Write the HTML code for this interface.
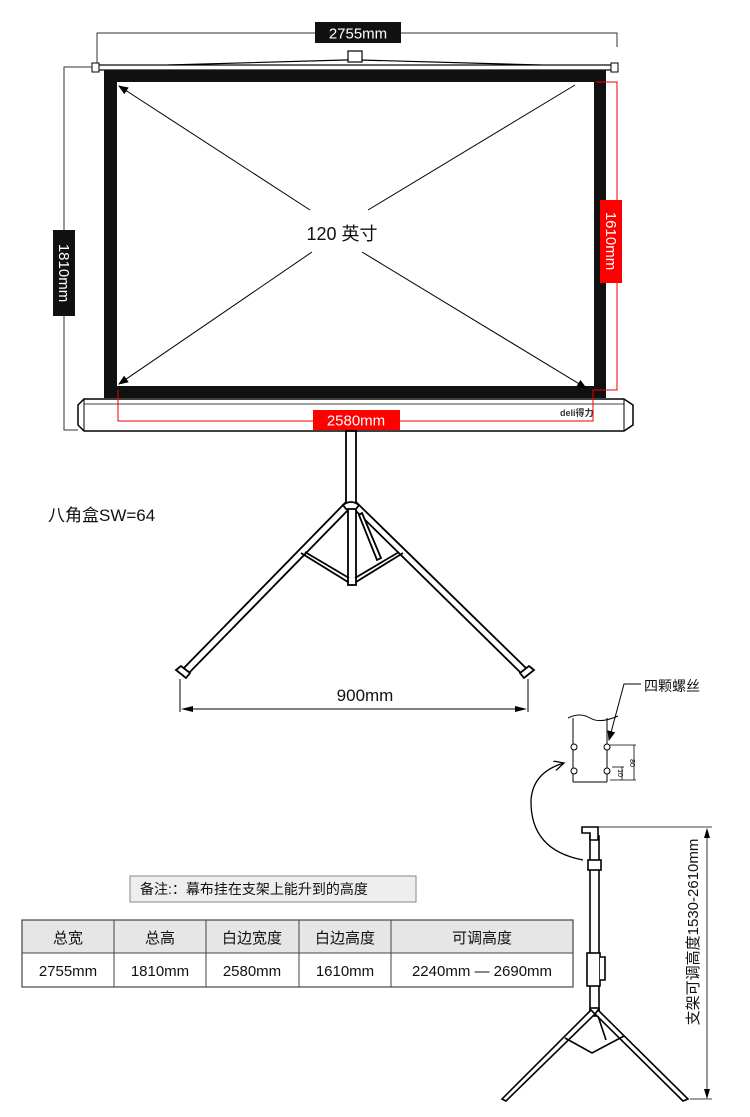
<!DOCTYPE html>
<html><head><meta charset="utf-8"><style>
html,body{margin:0;padding:0;background:#fff;}
svg{display:block;font-family:"Liberation Sans","Noto Sans CJK SC",sans-serif;}
</style></head><body>
<svg width="750" height="1117" viewBox="0 0 750 1117" xmlns="http://www.w3.org/2000/svg">
<defs>
<marker id="ar" markerWidth="10" markerHeight="8" refX="9" refY="4" orient="auto" markerUnits="userSpaceOnUse"><path d="M0,0 L10,4 L0,8 Z" fill="#000"/></marker>
<marker id="ar2" markerWidth="12" markerHeight="10" refX="10" refY="5" orient="auto" markerUnits="userSpaceOnUse"><path d="M0,0 L10,5 L0,10" fill="none" stroke="#000" stroke-width="1.3"/></marker>
</defs>
<polyline points="97,65 97,33 617,33 617,47" fill="none" stroke="#333" stroke-width="1"/>
<rect x="315" y="22" width="86" height="21" fill="#111"/>
<text x="358" y="38.5" font-size="15" fill="#fff" text-anchor="middle">2755mm</text>
<polyline points="168,65 345,60 360,60 540,65" fill="none" stroke="#000" stroke-width="1.2"/>
<rect x="348" y="51" width="14" height="11" fill="#fff" stroke="#000" stroke-width="1.2"/>
<rect x="95" y="65" width="520" height="5" fill="#fff" stroke="#000" stroke-width="1.2"/>
<rect x="92" y="63" width="7" height="9" fill="#fff" stroke="#000"/>
<rect x="611" y="63" width="7" height="9" fill="#fff" stroke="#000"/>
<polyline points="92,67 64,67 64,430 78,430" fill="none" stroke="#333" stroke-width="1"/>
<rect x="53" y="230" width="22" height="86" fill="#111"/>
<text transform="translate(59,273) rotate(90)" font-size="15" fill="#fff" text-anchor="middle">1810mm</text>
<rect x="104" y="70" width="502" height="328" fill="#111"/>
<rect x="117" y="82" width="477" height="304" fill="#fff"/>
<line x1="310" y1="210" x2="119" y2="86" stroke="#000" stroke-width="1" marker-end="url(#ar)"/>
<line x1="368" y1="210" x2="575" y2="85" stroke="#000" stroke-width="1"/>
<line x1="312" y1="252" x2="119" y2="384" stroke="#000" stroke-width="1" marker-end="url(#ar)"/>
<line x1="362" y1="252" x2="586" y2="388" stroke="#000" stroke-width="1" marker-end="url(#ar)"/>
<text x="342" y="240" font-size="18" fill="#111" text-anchor="middle">120 英寸</text>
<path d="M84,399 L624,399 L633,405 L633,425 L624,431 L84,431 L78,425 L78,405 Z" fill="#fff" stroke="#000" stroke-width="1.5"/>
<line x1="84" y1="399" x2="84" y2="431" stroke="#000"/>
<line x1="624" y1="399" x2="624" y2="431" stroke="#000"/>
<line x1="84" y1="404" x2="624" y2="404" stroke="#000" stroke-width="0.8"/>
<text x="560" y="416" font-size="9" font-weight="bold" fill="#333">deli得力</text>
<polyline points="596,82 617,82 617,390 593,390 593,421 118,421 118,390" fill="none" stroke="#e00" stroke-width="1"/>
<rect x="600" y="200" width="22" height="83" fill="#f00"/>
<text transform="translate(606,241) rotate(90)" font-size="15" fill="#fff" text-anchor="middle">1610mm</text>
<rect x="313" y="410" width="87" height="20" fill="#f00"/>
<text x="356" y="425.5" font-size="15" fill="#fff" text-anchor="middle">2580mm</text>
<g stroke="#000" stroke-width="1.8" fill="#fff">
<rect x="346" y="431" width="10" height="72"/>
<path d="M345,503 L180,672 L186,676 L349,509 Z"/>
<path d="M357,503 L530,672 L524,676 L354,509 Z"/>
<rect x="348" y="505" width="8" height="80"/>
<path d="M343,505 Q351,499 359,505 L356,509 L346,509 Z"/>
<path d="M301,553 L348,582 M305,552 L349,578" fill="none"/>
<path d="M403,553 L356,582 M399,552 L355,578" fill="none"/>
<path d="M359,515 L377,560 L381,558 L362,513 Z"/>
<path d="M176,670 L186,678 L190,673 L181,666 Z" fill="#fff"/>
<path d="M534,670 L524,678 L520,673 L529,666 Z" fill="#fff"/>
</g>
<line x1="180" y1="679" x2="180" y2="712" stroke="#000"/>
<line x1="528" y1="679" x2="528" y2="712" stroke="#000"/>
<line x1="190" y1="709" x2="518" y2="709" stroke="#000"/>
<path d="M181,709 L193,706 L193,712 Z M527,709 L515,706 L515,712 Z" fill="#000"/>
<text x="365" y="701" font-size="17" fill="#111" text-anchor="middle">900mm</text>
<text x="48" y="521" font-size="17" fill="#111">八角盒SW=64</text>
<path d="M568,718 Q580,712 590,718 T618,716" fill="none" stroke="#000"/>
<line x1="573" y1="718" x2="573" y2="782" stroke="#000"/>
<line x1="607" y1="718" x2="607" y2="782" stroke="#000"/>
<line x1="573" y1="782" x2="607" y2="782" stroke="#000"/>
<g fill="#fff" stroke="#000"><circle cx="574" cy="747" r="3"/><circle cx="574" cy="771" r="3"/><circle cx="607" cy="747" r="3"/><circle cx="607" cy="771" r="3"/></g>
<g stroke="#000" stroke-width="0.8"><line x1="610" y1="745" x2="636" y2="745"/><line x1="610" y1="780" x2="636" y2="780"/><line x1="634" y1="745" x2="634" y2="780"/><line x1="612" y1="767" x2="624" y2="767"/><line x1="622" y1="767" x2="622" y2="780"/></g>
<text transform="translate(630,763) rotate(90)" font-size="7" text-anchor="middle">80</text>
<text transform="translate(618,773) rotate(90)" font-size="7" text-anchor="middle">10</text>
<polyline points="641,684 624,684 609,740" fill="none" stroke="#000" stroke-width="1" marker-end="url(#ar)"/>
<text x="644" y="691" font-size="14" fill="#111">四颗螺丝</text>
<path d="M583,860 Q530,850 531,800 Q533,772 564,763" fill="none" stroke="#000" stroke-width="1.3" marker-end="url(#ar2)"/>
<g stroke="#000" stroke-width="1.6" fill="#fff">
<rect x="590" y="836" width="9" height="180"/>
<path d="M582,827 L598,827 L598,840 L590,840 L590,833 L582,833 Z"/>
<rect x="588" y="860" width="13" height="10"/>
<rect x="587" y="953" width="13" height="33"/>
<path d="M600,957 L605,957 L605,980 L600,980"/>
<rect x="590" y="1008" width="9" height="7"/>
<path d="M591,1010 L502,1099 L506,1101 L595,1014 Z"/>
<path d="M598,1010 L688,1099 L683,1101 L595,1014 Z"/>
<path d="M565,1038 L592,1053 L624,1036" fill="none"/>
<path d="M598,1016 L606,1040" fill="none"/>
</g>
<line x1="598" y1="827" x2="712" y2="827" stroke="#000" stroke-width="0.8"/>
<line x1="707" y1="829" x2="707" y2="1098" stroke="#000" stroke-width="0.8"/>
<path d="M707,828 L704,838 L710,838 Z M707,1099 L704,1089 L710,1089 Z" fill="#000"/>
<line x1="690" y1="1099" x2="712" y2="1099" stroke="#000" stroke-width="0.8"/>
<text transform="translate(698,932) rotate(-90)" font-size="15" fill="#111" text-anchor="middle">支架可调高度1530-2610mm</text>
<rect x="130" y="876" width="286" height="26" fill="#eee" stroke="#888"/>
<text x="140" y="894" font-size="14" fill="#111">备注:：幕布挂在支架上能升到的高度</text>
<rect x="22" y="920" width="551" height="33" fill="#e6e6e6"/>
<rect x="22" y="920" width="551" height="67" fill="none" stroke="#444" stroke-width="1.2"/>
<line x1="22" y1="953" x2="573" y2="953" stroke="#444"/>
<g stroke="#444"><line x1="114" y1="920" x2="114" y2="987"/><line x1="206" y1="920" x2="206" y2="987"/><line x1="299" y1="920" x2="299" y2="987"/><line x1="391" y1="920" x2="391" y2="987"/></g>
<g font-size="15" fill="#111" text-anchor="middle">
<text x="68" y="943">总宽</text><text x="160" y="943">总高</text><text x="252" y="943">白边宽度</text><text x="345" y="943">白边高度</text><text x="482" y="943">可调高度</text>
<text x="68" y="976">2755mm</text><text x="160" y="976">1810mm</text><text x="252" y="976">2580mm</text><text x="345" y="976">1610mm</text><text x="482" y="976">2240mm — 2690mm</text>
</g>
</svg>
</body></html>
